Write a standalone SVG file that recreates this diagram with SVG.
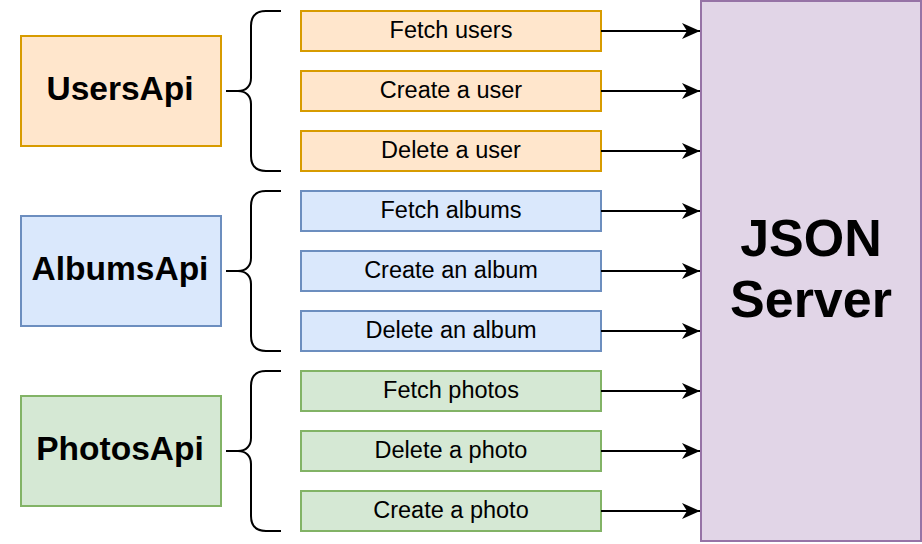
<svg xmlns="http://www.w3.org/2000/svg" width="922" height="544" viewBox="0 0 922 544">
<style>
text{font-family:"Liberation Sans",Arial,sans-serif;fill:#000;text-anchor:middle}
.big{font-size:33.5px;font-weight:bold}
.sm{font-size:23.5px}
.srv{font-size:52px;font-weight:bold}
.o{fill:#ffe6cc;stroke:#d79b00;stroke-width:2}
.b{fill:#dae8fc;stroke:#6c8ebf;stroke-width:2}
.g{fill:#d5e8d4;stroke:#82b366;stroke-width:2}
.p{fill:#e1d5e7;stroke:#9673a6;stroke-width:2}
.br{fill:none;stroke:#000;stroke-width:2}
.ln{stroke:#000;stroke-width:2;fill:none}
</style>
<defs>
<marker id="ah" markerUnits="userSpaceOnUse" markerWidth="20" markerHeight="20" refX="18" refY="8" orient="auto">
<path d="M0,0 L18,8 L0,16 L5,8 Z" fill="#000"/>
</marker>
</defs>
<g id="json-server"><rect class="p" x="701" y="1" width="220" height="540"/><text class="srv" x="811" y="256">JSON</text><text class="srv" x="811" y="317">Server</text></g>
<g id="usersapi"><rect class="o" x="21" y="36" width="200" height="110"/><text class="big" x="120" y="100">UsersApi</text></g>
<g id="albumsapi"><rect class="b" x="21" y="216" width="200" height="110"/><text class="big" x="120" y="280">AlbumsApi</text></g>
<g id="photosapi"><rect class="g" x="21" y="396" width="200" height="110"/><text class="big" x="120" y="460">PhotosApi</text></g>
<g id="fetch-users"><rect class="o" x="301" y="11" width="300" height="40"/><text class="sm" x="451" y="38">Fetch users</text></g>
<g id="create-user"><rect class="o" x="301" y="71" width="300" height="40"/><text class="sm" x="451" y="98">Create a user</text></g>
<g id="delete-user"><rect class="o" x="301" y="131" width="300" height="40"/><text class="sm" x="451" y="158">Delete a user</text></g>
<g id="fetch-albums"><rect class="b" x="301" y="191" width="300" height="40"/><text class="sm" x="451" y="218">Fetch albums</text></g>
<g id="create-album"><rect class="b" x="301" y="251" width="300" height="40"/><text class="sm" x="451" y="278">Create an album</text></g>
<g id="delete-album"><rect class="b" x="301" y="311" width="300" height="40"/><text class="sm" x="451" y="338">Delete an album</text></g>
<g id="fetch-photos"><rect class="g" x="301" y="371" width="300" height="40"/><text class="sm" x="451" y="398">Fetch photos</text></g>
<g id="delete-photo"><rect class="g" x="301" y="431" width="300" height="40"/><text class="sm" x="451" y="458">Delete a photo</text></g>
<g id="create-photo"><rect class="g" x="301" y="491" width="300" height="40"/><text class="sm" x="451" y="518">Create a photo</text></g>
<g id="connectors">
<path class="br" d="M281,11 H266 C256,11 251,16 251,26 V78 C251,86 246,91 238,91 H226 M238,91 C246,91 251,96 251,104 V156 C251,166 256,171 266,171 H281"/>
<path class="br" d="M281,191 H266 C256,191 251,196 251,206 V258 C251,266 246,271 238,271 H226 M238,271 C246,271 251,276 251,284 V336 C251,346 256,351 266,351 H281"/>
<path class="br" d="M281,371 H266 C256,371 251,376 251,386 V438 C251,446 246,451 238,451 H226 M238,451 C246,451 251,456 251,464 V516 C251,526 256,531 266,531 H281"/>
<line class="ln" x1="601" y1="31" x2="700" y2="31" marker-end="url(#ah)"/>
<line class="ln" x1="601" y1="91" x2="700" y2="91" marker-end="url(#ah)"/>
<line class="ln" x1="601" y1="151" x2="700" y2="151" marker-end="url(#ah)"/>
<line class="ln" x1="601" y1="211" x2="700" y2="211" marker-end="url(#ah)"/>
<line class="ln" x1="601" y1="271" x2="700" y2="271" marker-end="url(#ah)"/>
<line class="ln" x1="601" y1="331" x2="700" y2="331" marker-end="url(#ah)"/>
<line class="ln" x1="601" y1="391" x2="700" y2="391" marker-end="url(#ah)"/>
<line class="ln" x1="601" y1="451" x2="700" y2="451" marker-end="url(#ah)"/>
<line class="ln" x1="601" y1="511" x2="700" y2="511" marker-end="url(#ah)"/>
</g>
</svg>
